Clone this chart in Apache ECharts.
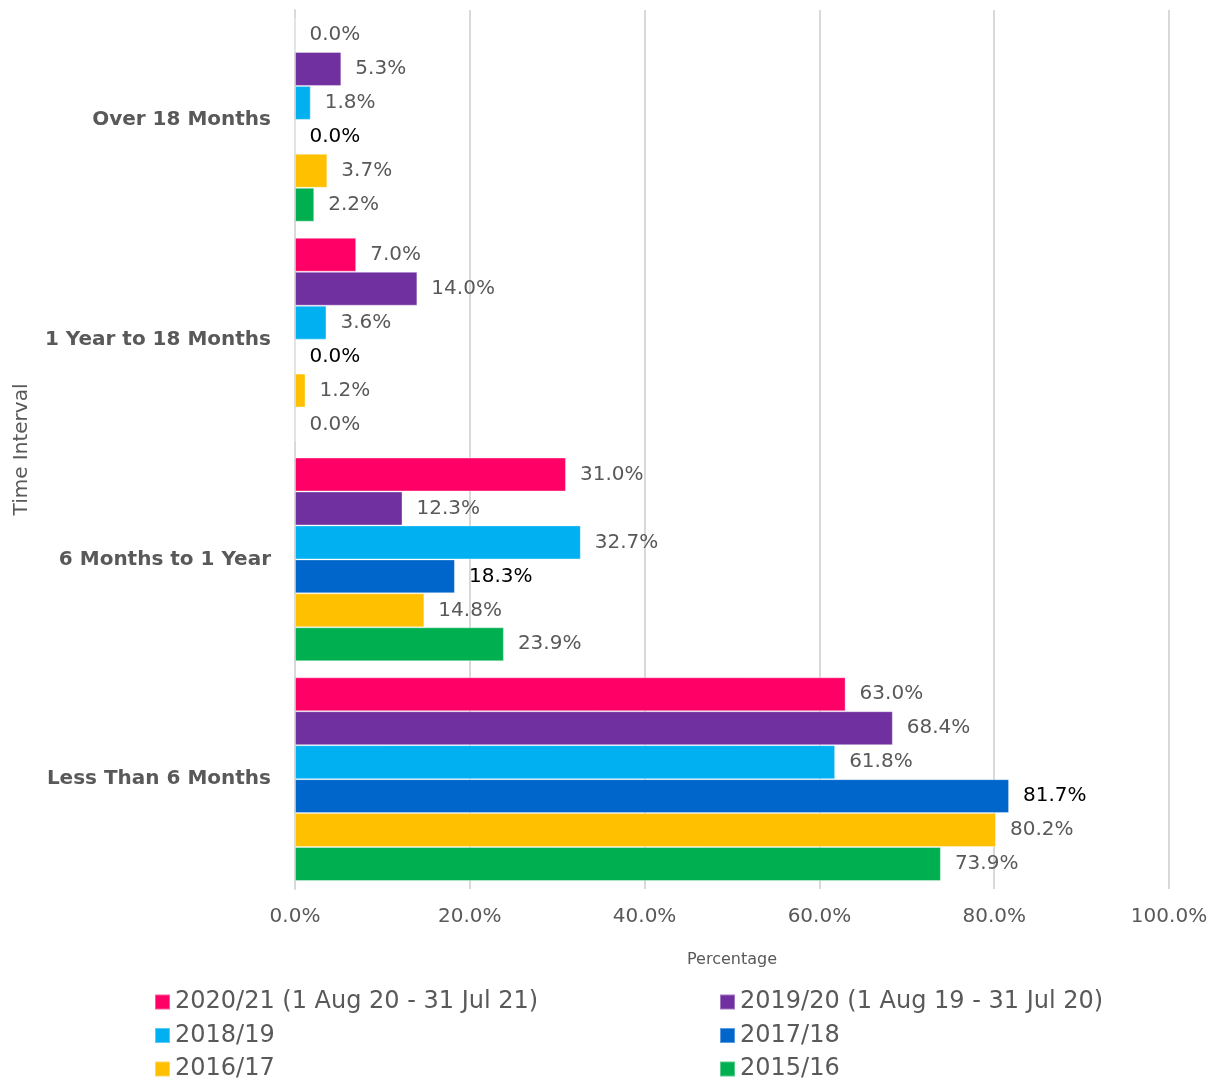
<!DOCTYPE html>
<html>
<head>
<meta charset="utf-8">
<script src="https://cdn.jsdelivr.net/npm/echarts@6/dist/echarts.min.js"></script>
<style>
  html, body { margin: 0; padding: 0; background: #fff; }
  #main { width: 1226px; height: 1080px; }
</style>
</head>
<body>
<div id="main"></div>
<script>
// categories, top to bottom
var categories = ['Over 18 Months', '1 Year to 18 Months', '6 Months to 1 Year', 'Less Than 6 Months'];
var seriesNames = ['2020/21 (1 Aug 20 - 31 Jul 21)', '2019/20 (1 Aug 19 - 31 Jul 20)', '2018/19', '2017/18', '2016/17', '2015/16'];
var colors = ['#FF0066', '#7030A0', '#00B0F0', '#0066CC', '#FFC000', '#00B050'];
var labelColors = ['#595959', '#595959', '#595959', '#000000', '#595959', '#595959'];

var v2021 = [0.0, 7.0, 31.0, 63.0];
var v1920 = [5.3, 14.0, 12.3, 68.4];
var v1819 = [1.8, 3.6, 32.7, 61.8];
var v1718 = [0.0, 0.0, 18.3, 81.7];
var v1617 = [3.7, 1.2, 14.8, 80.2];
var v1516 = [2.2, 0.0, 23.9, 73.9];
var values = [v2021, v1920, v1819, v1718, v1617, v1516];

var xTicks = [0, 20, 40, 60, 80, 100];

var font = 'DejaVu Sans';
var chart = echarts.init(document.getElementById('main'));

var series = values.map(function (d, i) {
  return {
    name: seriesNames[i],
    type: 'bar',
    data: d,
    barGap: '0%',
    barCategoryGap: '7.3%',
    itemStyle: {
      color: colors[i],
      borderColor: 'rgba(255,255,255,0.35)',
      borderWidth: 1
    },
    label: {
      show: true,
      position: 'right',
      distance: 14,
      color: labelColors[i],
      fontFamily: font,
      fontSize: 20,
      formatter: function (p) { return p.value.toFixed(1) + '%'; }
    }
  };
});

var legendText = { color: '#595959', fontFamily: font, fontSize: 24, lineHeight: 22 };

var option = {
  animation: false,
  backgroundColor: '#fff',
  color: colors,
  grid: { left: 295, right: 57, top: 10, bottom: 191, containLabel: false, outerBoundsMode: 'none' },
  legend: [{
    orient: 'vertical',
    left: 154,
    top: 990,
    height: 120,
    padding: 0,
    itemWidth: 15,
    itemHeight: 15,
    itemGap: 9.5,
    icon: 'rect',
    textStyle: legendText,
    data: [seriesNames[0], seriesNames[2], seriesNames[4]]
  }, {
    orient: 'vertical',
    left: 719,
    top: 990,
    height: 120,
    padding: 0,
    itemWidth: 15,
    itemHeight: 15,
    itemGap: 9.5,
    icon: 'rect',
    textStyle: legendText,
    data: [seriesNames[1], seriesNames[3], seriesNames[5]]
  }],
  xAxis: {
    type: 'value',
    min: 0,
    max: 100,
    interval: 20,
    name: 'Percentage',
    nameLocation: 'middle',
    nameGap: 63,
    nameTextStyle: { color: '#595959', fontFamily: font, fontSize: 16 },
    axisLine: { show: false },
    axisTick: { show: false },
    splitLine: { show: true, lineStyle: { color: '#d9d9d9', width: 2 } },
    axisLabel: {
      color: '#595959',
      fontFamily: font,
      fontSize: 20,
      margin: 18,
      formatter: function (v) { return xTicks.indexOf(v) >= 0 ? v.toFixed(1) + '%' : ''; }
    }
  },
  yAxis: {
    type: 'category',
    inverse: true,
    data: categories,
    name: 'Time Interval',
    nameLocation: 'middle',
    nameGap: 263,
    nameRotate: 90,
    nameTextStyle: { color: '#595959', fontFamily: font, fontSize: 20 },
    axisLine: { show: true, lineStyle: { color: '#d9d9d9', width: 2 } },
    axisTick: { show: false },
    axisLabel: {
      color: '#595959',
      fontFamily: font,
      fontWeight: 'bold',
      fontSize: 20,
      margin: 24
    }
  },
  series: series
};

chart.setOption(option);
</script>
</body>
</html>
